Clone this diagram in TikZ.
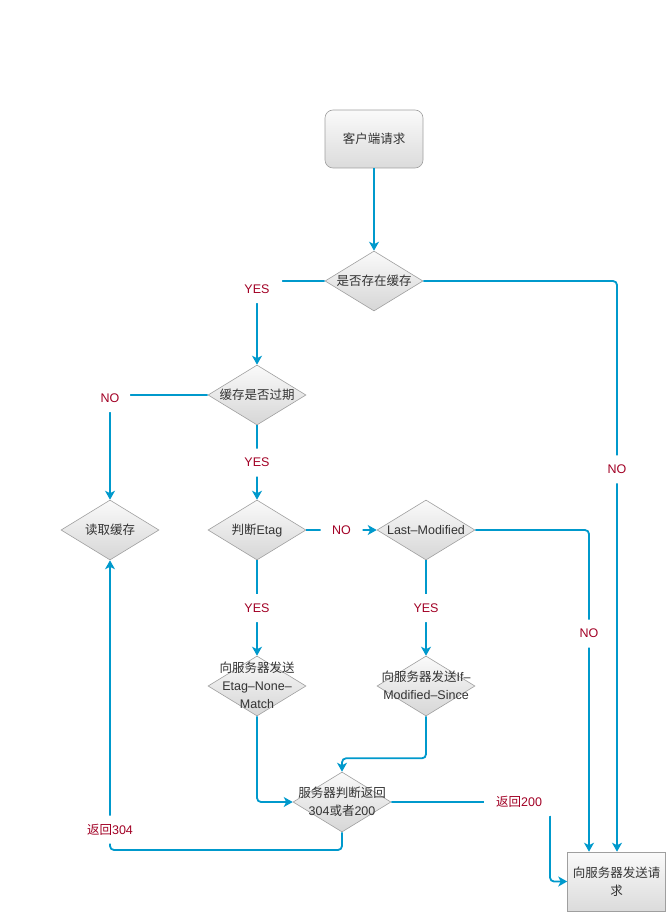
\documentclass[tikz,border=0pt]{standalone}
\usepackage{fontspec}
\setmainfont{Liberation Sans}
\newfontfamily\cjk{Noto Sans CJK SC}
\usetikzlibrary{shapes.geometric,arrows.meta}
\definecolor{flowblue}{HTML}{0099CC}
\definecolor{lblred}{HTML}{A20025}
\definecolor{txtgray}{HTML}{333333}
% text that does not change the size of its shape
\newcommand{\dtext}[1]{\makebox[0pt]{\raisebox{-4pt}[0pt][0pt]{\begin{tabular}{@{}c@{}}#1\end{tabular}}}}
\begin{document}
\begin{tikzpicture}[x=1pt,y=-1pt,font=\fontsize{12.5}{18}\selectfont,
  flow/.style={draw=flowblue,line width=1.8pt,rounded corners=4pt,-{Stealth[length=9pt,width=10pt,inset=2.5pt]}},
  decide/.style={diamond,draw=gray!75,line width=0.6pt,top color=black!2,bottom color=black!16,
    minimum width=98pt,minimum height=60pt,inner sep=0pt,text=txtgray},
  block/.style={rectangle,draw=gray!75,line width=0.6pt,top color=black!2,bottom color=black!14,
    minimum width=98pt,inner sep=0pt,text=txtgray},
  lbl/.style={fill=white,text=lblred,inner sep=0pt,minimum height=28pt}]
	\useasboundingbox (0,0) rectangle (667,912);
	\node[block,rounded corners=8pt,minimum height=58pt] (start) at (374,139) {\dtext{\cjk 客户端请求}};
	\node[decide] (hascache) at (374,281) {\dtext{\cjk 是否存在缓存}};
	\node[decide] (expired) at (257,395) {\dtext{\cjk 缓存是否过期}};
	\node[decide] (readcache) at (110,530) {\dtext{\cjk 读取缓存}};
	\node[decide] (etag) at (257,530) {\dtext{{\cjk 判断}Etag}};
	\node[decide] (lastmod) at (426,530) {\dtext{Last–Modified}};
	\node[decide] (sendetag) at (257,686) {\dtext{{\cjk 向服务器发送}\\Etag–None–\\Match}};
	\node[decide] (sendsince) at (426,686) {\dtext{{\cjk 向服务器发送}If–\\Modified–Since}};
	\node[decide] (server) at (342,802) {\dtext{{\cjk 服务器判断返回}\\304{\cjk 或者}200}};
	\node[block,minimum height=59pt] (request) at (616.5,881.5) {\dtext{\cjk 向服务器发送请\\\cjk 求}};
	\coordinate (c200) at (550,802);
	\coordinate (c304) at (110,850);

	\draw[flow] (start) -- (hascache);
	\draw[flow] (hascache.west) -| node[lbl,minimum width=50pt,yshift=-8pt]{YES} (expired.north);
	\draw[flow] (hascache.east) -| node[lbl,minimum width=30pt,pos=.665]{NO} ([xshift=0.5pt]request.north);
	\draw[flow] (expired.west) -| node[lbl,minimum width=40pt,yshift=-3pt]{NO} (readcache.north);
	\draw[flow] (expired) -- node[lbl,minimum width=40pt]{YES} (etag);
	\draw[flow] (etag) -- node[lbl,minimum width=42pt]{NO} (lastmod);
	\draw[flow] (lastmod.east) -| node[lbl,minimum width=30pt,pos=.661]{NO} ([xshift=-27.5pt]request.north);
	\draw[flow] (etag) -- node[lbl,minimum width=40pt]{YES} (sendetag);
	\draw[flow] (lastmod) -- node[lbl,minimum width=40pt]{YES} (sendsince);
	\draw[flow] (sendetag.south) |- (server.west);
	\draw[flow] (sendsince.south) -- ++(0,42) -| (server.north);
	\draw[flow] (server.east) -- node[lbl,minimum width=70pt,pos=.805]{{\cjk 返回}200} (c200) |- (request.west);
	\draw[flow] (server.south) |- (c304) -- node[lbl,minimum width=50pt,pos=.07]{{\cjk 返回}304} (readcache.south);
\end{tikzpicture}
\end{document}
